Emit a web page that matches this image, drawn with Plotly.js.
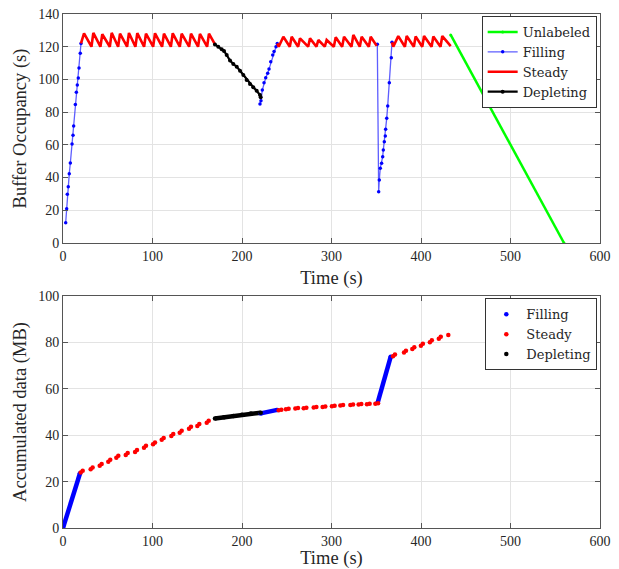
<!DOCTYPE html>
<html>
<head>
<meta charset="utf-8">
<script src="https://cdn.plot.ly/plotly-3.0.1.min.js"></script>
<style>html,body{margin:0;padding:0;background:#fff;}#chart{width:619px;height:569px;}</style>
</head>
<body>
<div id="chart"></div>
<script>
// ---------- Top panel: buffer occupancy (s) ----------
const unlabeledT = [433.2, 559.8];
const unlabeledY = [127.2, 0];

const fill1T = [3.0, 4.1, 4.8, 5.9, 7.0, 8.2, 10.1, 11.2, 11.9, 13.8, 14.9, 16.0, 17.1, 17.9, 19.3, 20.1];
const fill1Y = [12.4, 21, 29.8, 34.4, 42.4, 48.9, 60.5, 65.8, 71.5, 84.6, 92.1, 96.6, 100.9, 107, 116, 122];
const fill2T = [220.1, 221.2, 222.7, 224.6, 226.5, 228.7, 230.2, 232.1, 234.3, 235.8, 238, 239.4];
const fill2Y = [85, 87, 93.5, 98, 101, 103.7, 106.4, 110.8, 114.9, 117, 120, 122];
const fill3T = [351.2, 352.7, 353.4, 354.5, 356, 357.2, 357.9, 359, 360.1, 360.5, 361.7, 362.8, 364.6, 366.8, 367.6];
const fill3Y = [121.5, 31.4, 38.5, 45.7, 48.7, 52.8, 56.9, 61.9, 65.4, 69.5, 76.2, 83.8, 98, 113.3, 122.7];

const steady1T = [20.1, 23.5, 31.8, 33.9, 41.8, 43.9, 52.3, 54.4, 61.6, 63.7, 71.6, 73.7, 80.9, 83.0, 90.6, 92.7, 100.7, 102.8, 110.7, 112.8, 120.5, 122.6, 130.5, 132.6, 140.9, 143.0, 150.9, 153.0, 161.0, 163.1, 169.8];
const steady1Y = [122, 128.2, 120, 128.5, 120, 127.6, 120, 128.5, 120, 128, 120, 128.4, 120, 128.3, 120, 128, 120, 128.2, 120, 128, 120, 128.2, 120, 128, 120, 128, 120, 127.8, 120, 128, 121.4];
const steady2T = [239.4, 241, 246.2, 253.4, 255.5, 262.7, 264.8, 273.9, 276, 283.2, 285.3, 292.5, 294.6, 302.6, 304.7, 311.9, 314, 322.3, 324.4, 331.6, 333.7, 341.7, 343.8, 350.5];
const steady2Y = [122, 120, 126.1, 120, 126.1, 120, 125.1, 120, 125.1, 120, 124.1, 120, 124.1, 120, 125.8, 120, 126.1, 120, 127.2, 120, 126.1, 120, 126.1, 120.5];
const steady3T = [367.6, 369, 374.6, 382, 384, 392, 394, 401.4, 403.4, 411.8, 413.8, 421.8, 423.8, 433.2];
const steady3Y = [122.7, 120, 126.5, 120, 126.5, 120, 126.3, 120, 126.5, 120, 126.3, 120, 126.5, 120.4];

const deplT = [169.8, 173.5, 177.3, 179.9, 182.9, 186.6, 190.3, 194.1, 197.8, 201.5, 205.2, 208.9, 212.6, 216.4, 220.1, 220.9];
const deplY = [121.4, 120.0, 118.4, 117.4, 114.9, 111.5, 109.4, 107.8, 105.3, 102.7, 99.7, 97.2, 95.2, 93.1, 90.5, 89.1];

// ---------- Bottom panel: accumulated data (MB) ----------
const accFillT = [0, 19, null, 220.9, 239.4, null, 351.6, 366.1];
const accFillY = [0, 23.6, null, 49.4, 50.9, null, 54, 73.8];

const accSteadyT = [19.8, 22.0, 30.9, 33.1, 41.0, 43.2, 50.6, 52.8, 59.6, 61.8, 70.1, 72.3, 80.5, 82.7, 90.5, 92.7, 100.6, 102.8, 110.3, 112.5, 121.0, 123.2, 130.4, 132.6, 140.8, 143.0, 150.1, 152.3, 160.6, 162.8,
  241.0, 244.0, 249.1, 252.1, 259.6, 262.6, 268.9, 271.9, 280.1, 283.1, 290.1, 293.1, 300.5, 303.5, 309.9, 312.9, 321.1, 324.1, 330.3, 333.3, 339.6, 342.6, 349.0, 352.0,
  368.7, 370.9, 381.0, 383.2, 390.3, 392.5, 399.9, 402.1, 409.9, 412.1, 419.9, 422.1, 430.5];
const accSteadyY = [23.9, 24.7, 25.3, 26.1, 26.8, 27.6, 28.6, 29.4, 30.3, 31.1, 31.5, 32.3, 32.8, 33.6, 34.6, 35.4, 36.1, 36.9, 38.0, 38.8, 39.7, 40.5, 41.1, 41.9, 42.8, 43.6, 44.0, 44.8, 45.4, 46.2,
  50.8, 51.0, 51.2, 51.4, 51.5, 51.7, 51.6, 51.8, 51.9, 52.1, 52.2, 52.4, 52.5, 52.7, 52.8, 53.0, 53.0, 53.2, 53.2, 53.4, 53.3, 53.5, 53.6, 53.8,
  74.0, 74.8, 75.6, 76.4, 77.1, 77.9, 78.6, 79.4, 80.1, 80.9, 81.6, 82.4, 83.2];

const accDeplT = [169.8, 180, 190.3, 200, 210, 220.9];
const accDeplY = [47.2, 47.7, 48.3, 48.8, 49.3, 49.7];

function joinSeg(...arrs) {
  const out = [];
  arrs.forEach((a, i) => { if (i > 0) out.push(null); out.push(...a); });
  return out;
}

const BLUE = '#0000ff', RED = '#ff0000', BLACK = '#000000', GREEN = '#00ff00';

const traces = [
  {x: unlabeledT, y: unlabeledY, name: 'Unlabeled', mode: 'lines+markers', xaxis: 'x', yaxis: 'y',
   line: {color: GREEN, width: 2.5}, marker: {color: GREEN, size: 3}, legend: 'legend'},
  {x: joinSeg(fill1T, fill2T, fill3T), y: joinSeg(fill1Y, fill2Y, fill3Y), name: 'Filling', mode: 'lines+markers',
   xaxis: 'x', yaxis: 'y', line: {color: 'rgba(40,40,255,0.75)', width: 1.3}, marker: {color: BLUE, size: 3.5}, legend: 'legend'},
  {x: joinSeg(steady1T, steady2T, steady3T), y: joinSeg(steady1Y, steady2Y, steady3Y), name: 'Steady', mode: 'lines',
   xaxis: 'x', yaxis: 'y', line: {color: RED, width: 2.6}, legend: 'legend'},
  {x: deplT, y: deplY, name: 'Depleting', mode: 'lines+markers', xaxis: 'x', yaxis: 'y',
   line: {color: BLACK, width: 2.2}, marker: {color: BLACK, size: 4}, legend: 'legend'},

  // bottom panel
  {x: accFillT, y: accFillY, mode: 'lines', xaxis: 'x2', yaxis: 'y2', showlegend: false, hoverinfo: 'skip',
   line: {color: BLUE, width: 4.5}},
  {x: accDeplT, y: accDeplY, mode: 'lines', xaxis: 'x2', yaxis: 'y2', showlegend: false, hoverinfo: 'skip',
   line: {color: BLACK, width: 4.5}},
  {x: accFillT, y: accFillY, name: 'Filling', mode: 'markers', xaxis: 'x2', yaxis: 'y2',
   marker: {color: BLUE, size: 4.5}, legend: 'legend2'},
  {x: accSteadyT, y: accSteadyY, name: 'Steady', mode: 'markers', xaxis: 'x2', yaxis: 'y2',
   marker: {color: RED, size: 4.5}, legend: 'legend2'},
  {x: accDeplT, y: accDeplY, name: 'Depleting', mode: 'markers', xaxis: 'x2', yaxis: 'y2',
   marker: {color: BLACK, size: 4.5}, legend: 'legend2'}
];

const FONT = "'Liberation Serif', 'Times New Roman', serif";
const LEGFONT = "'DejaVu Serif', serif";
const TXT = '#262626';
const axisCommon = {
  showline: true, linecolor: '#555', linewidth: 1, mirror: 'ticks',
  ticks: 'inside', ticklen: 5, tickcolor: '#555', tickwidth: 1,
  showgrid: true, gridcolor: '#e3e3e3', gridwidth: 1, zeroline: false,
  tickfont: {family: FONT, size: 14, color: TXT}
};
const titleFont = {family: FONT, size: 18.5, color: TXT};

const legendCommon = {
  xanchor: 'right', yanchor: 'top', bgcolor: '#ffffff', bordercolor: '#333', borderwidth: 1,
  font: {family: LEGFONT, size: 13, color: TXT}, tracegroupgap: 0, itemwidth: 30
};

const layout = {
  width: 619, height: 569,
  margin: {l: 63, r: 19, t: 14, b: 41},
  paper_bgcolor: '#ffffff', plot_bgcolor: '#ffffff',
  font: {family: FONT, color: TXT},
  xaxis: Object.assign({}, axisCommon, {domain: [0, 1], anchor: 'y', range: [0, 600], dtick: 100, tick0: 0,
    title: {text: 'Time (s)', font: titleFont, standoff: 8}}),
  yaxis: Object.assign({}, axisCommon, {domain: [0.5545, 1], anchor: 'x', range: [0, 140], dtick: 20, tick0: 0,
    title: {text: 'Buffer Occupancy (s)', font: titleFont, standoff: 6}}),
  xaxis2: Object.assign({}, axisCommon, {domain: [0, 1], anchor: 'y2', range: [0, 600], dtick: 100, tick0: 0,
    title: {text: 'Time (s)', font: titleFont, standoff: 12}}),
  yaxis2: Object.assign({}, axisCommon, {domain: [0, 0.4514], anchor: 'x2', range: [0, 100], dtick: 20, tick0: 0,
    title: {text: 'Accumulated data (MB)', font: titleFont, standoff: 6}}),
  legend: Object.assign({}, legendCommon, {x: 0.9938, y: 0.9961}),
  legend2: Object.assign({}, legendCommon, {x: 0.995, y: 0.4469}),
  showlegend: true
};

Plotly.newPlot('chart', traces, layout, {displayModeBar: false, staticPlot: true});
</script>
</body>
</html>
